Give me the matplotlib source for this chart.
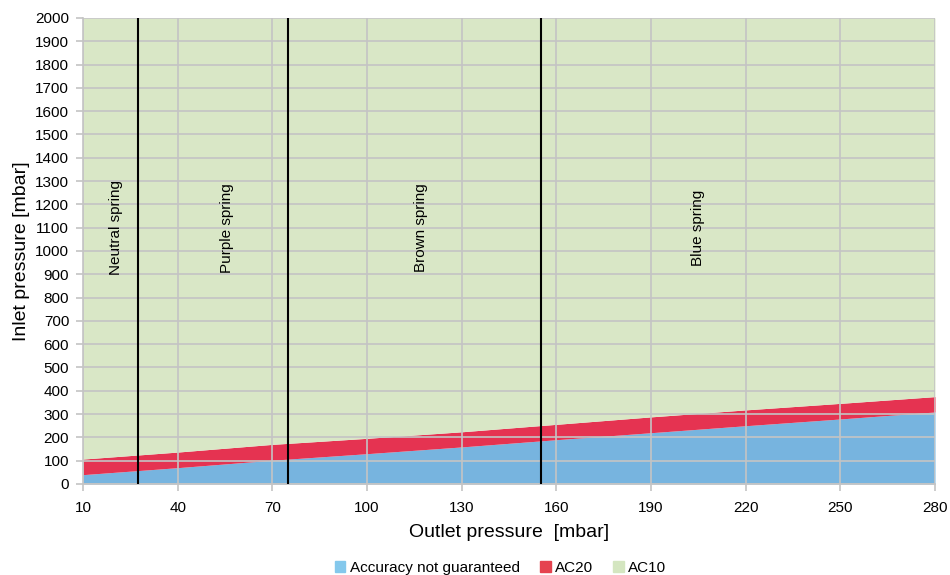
import matplotlib.pyplot as plt
from matplotlib.patches import Patch

plt.rcParams['font.family'] = ['Liberation Sans', 'DejaVu Sans']

# outlet pressure [mbar] and band limits [mbar]
outlet = [10, 40, 70, 100, 130, 160, 190, 220, 250, 280]
no_accuracy = [40, 70, 102, 130, 159, 190, 220, 250, 279, 309]
ac20_top = [107, 137, 170, 196, 224, 256, 288, 318, 346, 375]
ac10_top = [2000] * len(outlet)

spring_limits = [27.5, 75, 155]
spring_names = ['Neutral spring', 'Purple spring', 'Brown spring', 'Blue spring']
spring_label_x = [20.5, 55.5, 117, 205]

blue = '#77b4df'
red = '#e53351'
green = '#d9e7c6'

fig = plt.figure(figsize=(9.5, 5.75), dpi=100)
ax = fig.add_axes([0.0874, 0.1583, 0.8968, 0.8104])

ax.fill_between(outlet, 0, no_accuracy, color=blue, lw=0, zorder=1)
ax.fill_between(outlet, no_accuracy, ac20_top, color=red, lw=0, zorder=1)
ax.fill_between(outlet, ac20_top, ac10_top, color=green, lw=0, zorder=1)

ax.set_xlim(10, 280)
ax.set_ylim(0, 2000)
ax.set_xticks(range(10, 281, 30))
ax.set_yticks(range(0, 2001, 100))
ax.grid(True, color='#c4c4c4', lw=1.2, zorder=2)
ax.set_axisbelow(False)

for x in spring_limits:
    ax.axvline(x, color='black', lw=1.5, zorder=3)

for x, name in zip(spring_label_x, spring_names):
    ax.text(x, 1100, name, rotation=90, ha='center', va='center', fontsize=11, zorder=4)

for side in ['top', 'right']:
    ax.spines[side].set_visible(False)
for side in ['left', 'bottom']:
    ax.spines[side].set_color('#c4c4c4')
    ax.spines[side].set_linewidth(1.2)
ax.tick_params(colors='#c4c4c4', labelcolor='black', labelsize=11, length=5, width=1.2)
ax.tick_params(axis='x', pad=7)
ax.tick_params(axis='y', pad=5)

ax.set_xlabel('Outlet pressure  [mbar]', fontsize=14, labelpad=7)
ax.set_ylabel('Inlet pressure [mbar]', fontsize=14, labelpad=4)

handles = [Patch(color='#84c8ec', label='Accuracy not guaranteed'),
           Patch(color='#e5434f', label='AC20'),
           Patch(color='#d4e6c0', label='AC10')]
fig.legend(handles=handles, loc='center', bbox_to_anchor=(0.527, 1 - 568 / 575), ncol=3,
           frameon=False, fontsize=11, handlelength=0.7, handleheight=0.7,
           handletextpad=0.3, columnspacing=1.3)

fig.savefig('out.png', dpi=100)
